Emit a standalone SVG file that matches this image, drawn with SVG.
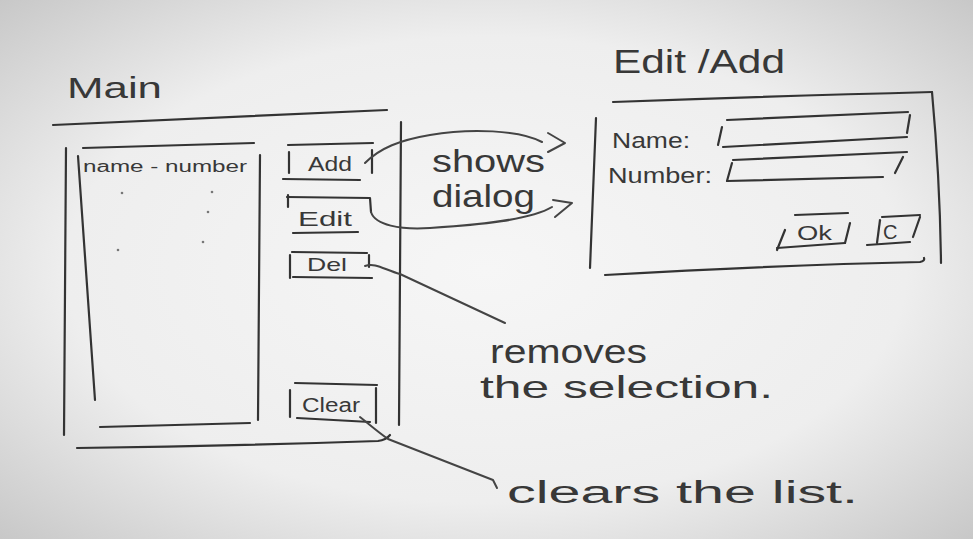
<svg xmlns="http://www.w3.org/2000/svg" width="973" height="539" viewBox="0 0 973 539">
<defs>
<radialGradient id="bg" cx="50%" cy="50%" r="72%">
<stop offset="0" stop-color="#f6f6f6"/>
<stop offset="0.6" stop-color="#eeeeee"/>
<stop offset="1" stop-color="#c6c6c6"/>
</radialGradient>
<style>
.s{fill:none;stroke:#333;stroke-width:2.2;stroke-linecap:round;stroke-linejoin:round}
.c{fill:none;stroke:#444;stroke-width:2;stroke-linecap:round;stroke-linejoin:round}
.t{font-family:"Liberation Sans","DejaVu Sans",sans-serif;fill:#383838}
</style>
</defs>
<rect width="973" height="539" fill="url(#bg)"/>

<g id="main-window">
<text class="t" x="67" y="98" font-size="30" textLength="95" lengthAdjust="spacingAndGlyphs">Main</text>
<path class="s" d="M53,125 Q220,118 387,110"/>
<path class="s" d="M66,148 L64,435"/>
<path class="s" d="M77,448 Q230,446 378,441 Q386,440 390,435"/>
<path class="s" d="M401,122 L399,425"/>
</g>

<g id="list">
<path class="s" d="M83,148 L254,143"/>
<path class="s" d="M78,156 L95,400"/>
<path class="s" d="M260,155 L258,420"/>
<path class="s" d="M100,427 L250,423"/>
<text class="t" x="83" y="172" font-size="16" textLength="164" lengthAdjust="spacingAndGlyphs">name - number</text>
<g fill="#777">
<circle cx="122" cy="193" r="1.3"/><circle cx="212" cy="192" r="1.3"/><circle cx="208" cy="212" r="1.3"/>
<circle cx="118" cy="250" r="1.3"/><circle cx="203" cy="242" r="1.3"/>
</g>
</g>

<g id="btn-add">
<path class="s" d="M288,145 L373,143"/>
<path class="s" d="M289,152 L289,173"/>
<path class="s" d="M283,179 L360,180"/>
<path class="s" d="M372,150 L372,173"/>
<text class="t" x="308" y="171" font-size="21" textLength="44" lengthAdjust="spacingAndGlyphs">Add</text>
</g>

<g id="btn-edit">
<path class="s" d="M287,197 L370,198 L371,212"/>
<path class="s" d="M288,195 L288,207"/>
<path class="s" d="M293,233 L358,232"/>
<text class="t" x="298" y="226" font-size="21" textLength="54" lengthAdjust="spacingAndGlyphs">Edit</text>
</g>

<g id="btn-del">
<path class="s" d="M292,252 L367,253"/>
<path class="s" d="M290,255 L290,278"/>
<path class="s" d="M293,277 L372,278"/>
<path class="s" d="M369,255 L369,267"/>
<text class="t" x="307" y="271" font-size="19" textLength="40" lengthAdjust="spacingAndGlyphs">Del</text>
</g>

<g id="btn-clear">
<path class="s" d="M295,383 L377,385"/>
<path class="s" d="M290,390 L290,417"/>
<path class="s" d="M297,418 L370,422"/>
<path class="s" d="M376,388 L376,423"/>
<text class="t" x="302" y="412" font-size="20" textLength="58" lengthAdjust="spacingAndGlyphs">Clear</text>
</g>

<g id="dialog">
<text class="t" x="613" y="73" font-size="34" textLength="172" lengthAdjust="spacingAndGlyphs">Edit /Add</text>
<path class="s" d="M613,102 Q780,96 932,92"/>
<path class="s" d="M596,118 L590,268"/>
<path class="s" d="M932,92 Q940,180 941,263"/>
<path class="s" d="M605,275 Q780,265 920,262 Q925,261 924,258"/>
<text class="t" x="612" y="148" font-size="22" textLength="78" lengthAdjust="spacingAndGlyphs">Name:</text>
<text class="t" x="608" y="183" font-size="22" textLength="104" lengthAdjust="spacingAndGlyphs">Number:</text>
<g id="field-name">
<path class="s" d="M722,127 L718,145"/>
<path class="s" d="M727,120 L908,112"/>
<path class="s" d="M910,115 L907,133"/>
<path class="s" d="M723,147 L907,137"/>
</g>
<g id="field-number">
<path class="s" d="M732,163 L727,181"/>
<path class="s" d="M733,160 L907,152"/>
<path class="s" d="M903,157 L895,173"/>
<path class="s" d="M727,181 L883,177"/>
</g>
<g id="btn-ok">
<path class="s" d="M785,230 L777,250"/>
<path class="s" d="M777,248 L845,243"/>
<path class="s" d="M795,215 L848,213"/>
<path class="s" d="M850,223 L845,243"/>
<text class="t" x="797" y="240" font-size="20" textLength="35" lengthAdjust="spacingAndGlyphs">Ok</text>
</g>
<g id="btn-c">
<path class="s" d="M880,220 L877,243"/>
<path class="s" d="M882,217 L920,215"/>
<path class="s" d="M920,217 L913,237"/>
<path class="s" d="M867,245 L910,242"/>
<text class="t" x="883" y="239" font-size="20">C</text>
</g>
</g>

<g id="notes">
<text class="t" x="432" y="172" font-size="32" textLength="113" lengthAdjust="spacingAndGlyphs">shows</text>
<text class="t" x="432" y="207" font-size="32" textLength="103" lengthAdjust="spacingAndGlyphs">dialog</text>
<text class="t" x="490" y="363" font-size="33" textLength="157" lengthAdjust="spacingAndGlyphs">removes</text>
<text class="t" x="480" y="398" font-size="32" textLength="293" lengthAdjust="spacingAndGlyphs">the selection.</text>
<text class="t" x="507" y="503" font-size="31" textLength="351" lengthAdjust="spacingAndGlyphs">clears the list.</text>
</g>

<g id="connectors">
<path class="c" d="M365,163 C380,148 400,140 430,135 C470,128 520,130 542,142"/>
<path class="c" d="M548,133 L565,143 L548,152"/>
<path class="c" d="M371,212 C375,225 400,230 430,228 C480,225 530,220 552,207"/>
<path class="c" d="M553,200 L572,203 L555,217"/>
<path class="c" d="M365,266 C375,262 385,270 400,274 L505,323"/>
<path class="c" d="M360,417 C370,425 378,432 388,439 L493,480 L497,488"/>
</g>
</svg>
